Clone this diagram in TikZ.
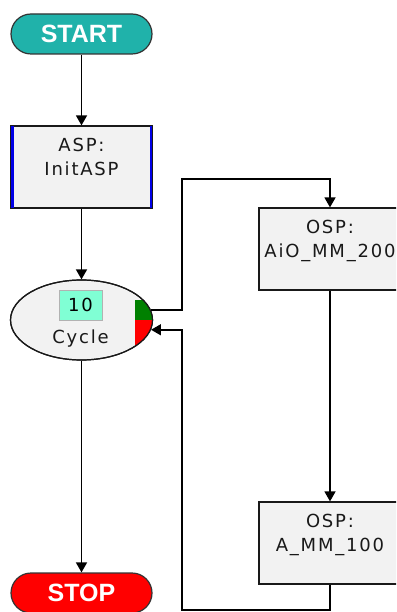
\documentclass[tikz,border=0pt]{standalone}
\usepackage{fontspec}
\usetikzlibrary{arrows.meta,shapes.geometric}
\newfontfamily\boxfont{DejaVu Sans}[LetterSpace=10]
\newfontfamily\pillfont{Liberation Sans}
\definecolor{tealpill}{HTML}{20B2AA}
\definecolor{boxgray}{HTML}{F2F2F2}
\definecolor{aquabox}{HTML}{80FFD4}
\definecolor{stripe}{HTML}{0000E6}
\definecolor{grn}{HTML}{008000}
\begin{document}
\begin{tikzpicture}[x=1pt,y=-1pt,
  pill/.style={draw=black!80, line width=1.2pt, rounded corners=20pt, minimum width=141pt, minimum height=40pt, inner sep=0pt, text=white, font=\pillfont\bfseries\fontsize{25}{25}\selectfont},
  stepbox/.style={draw=black!90, line width=1.2pt, fill=boxgray, minimum width=142pt, minimum height=82pt, inner sep=0pt},
  txt/.style={inner sep=0pt, align=center, anchor=north, font=\boxfont\fontsize{18}{24}\selectfont, text=black!90},
  arr/.style={draw=black, line width=1.5pt, -{Triangle[width=11pt,length=10pt]}}]
\clip (0,0) rectangle (396,612);
\fill[white] (0,0) rectangle (396,612);

% START
\node[pill, fill=tealpill] (start) at (81.5,34) {START};

% ASP box
\node[stepbox] (asp) at (81.5,167) {};
\draw[stripe, line width=2.8pt] ([xshift=2.2pt,yshift=-0.6pt]asp.north west) -- ([xshift=2.2pt,yshift=0.6pt]asp.south west);
\draw[stripe, line width=2.8pt] ([xshift=-2.2pt,yshift=-0.6pt]asp.north east) -- ([xshift=-2.2pt,yshift=0.6pt]asp.south east);
\node[txt] (asptxt) at ([yshift=-13pt]asp.north) {ASP:\\InitASP};

% Cycle
\node[ellipse, draw=black!90, line width=1.2pt, fill=boxgray, minimum width=142pt, minimum height=80pt, inner sep=0pt] (cyc) at (81.5,320) {};
\begin{scope}
  \clip (81.5,320) ellipse [x radius=71, y radius=40];
  \fill[grn] (135,300) rectangle (156,320);
  \fill[red] (135,320) rectangle (156,345);
\end{scope}
\draw[black!90, line width=1.2pt] (81.5,320) ellipse [x radius=71, y radius=40];
\node[draw=gray!60, line width=1pt, fill=aquabox, minimum width=43pt, minimum height=30pt, inner sep=0pt, font=\boxfont\fontsize{18}{18}\selectfont] (cnt) at (80.5,305) {10};
\node[inner sep=0pt, font=\boxfont\fontsize{18}{18}\selectfont, text=black!90] (cyctxt) at (80.5,339) {Cycle};

% OSP boxes
\node[stepbox] (osp1) at (330,249) {};
\node[txt] (osp1txt) at ([yshift=-13pt]osp1.north) {OSP:\\AiO\_MM\_200};
\node[stepbox] (osp2) at (330,543) {};
\node[txt] (osp2txt) at ([yshift=-13pt]osp2.north) {OSP:\\A\_MM\_100};

% STOP
\node[pill, fill=red] (stop) at (81.5,593) {STOP};

% junctions
\coordinate (j1) at (182,179);
\coordinate (j2) at (182,610);

% connectors
\draw[arr] (start) -- (asp);
\draw[arr] (asp) -- (cyc);
\draw[arr] (cyc) -- (stop);
\draw[arr] (cyc.8) -| (j1) -| (osp1.north);
\draw[arr] (osp1) -- (osp2);
\draw[arr] (osp2.south) |- (j2) |- (cyc.-8);
\end{tikzpicture}
\end{document}
